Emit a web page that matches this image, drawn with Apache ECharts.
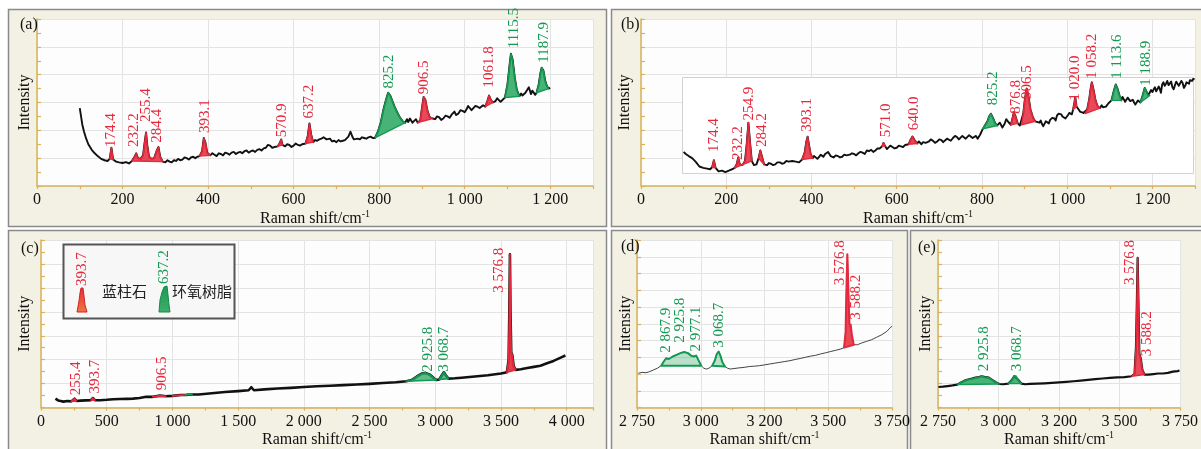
<!DOCTYPE html>
<html><head><meta charset="utf-8">
<script src="https://cdn.jsdelivr.net/npm/echarts@6/dist/echarts.min.js"></script>
<style>html,body{margin:0;padding:0;background:#fff}#c{width:1201px;height:449px}</style>
</head><body><div id="c"></div>
<script>
// ---------- DATA ----------
const specA = [[100,5.6],[103,5.0],[106,4.4],[110,3.9],[115,3.4],[120,3.0],[128,2.6],[135,2.35],[142,2.15],[150,1.95],[158,1.85],[165,1.8],[170,1.95],[174,2.75],[178,1.9],[185,1.75],[192,1.7],[200,1.65],[208,1.72],[215,1.62],[222,1.8],[228,2.1],[232,2.35],[236,2.0],[242,1.95],[248,2.2],[252,3.2],[255,3.85],[258,2.9],[262,2.1],[268,1.95],[274,2.0],[280,2.55],[284,2.8],[288,2.1],[294,1.75],[300,1.7],[305,1.85],[310,1.75],[315,1.7],[320,1.85],[325,1.8],[330,1.95],[335,1.85],[340,1.9],[345,2.05],[350,2.0],[355,1.9],[360,2.05],[365,2.1],[370,2.0],[375,2.1],[380,2.15],[386,2.5],[390,3.45],[394,3.1],[398,2.4],[405,2.2],[410,2.35],[415,2.25],[420,2.15],[425,2.35],[430,2.3],[435,2.2],[440,2.4],[445,2.35],[450,2.25],[455,2.4],[460,2.45],[465,2.3],[470,2.4],[475,2.45],[480,2.35],[485,2.5],[490,2.55],[495,2.4],[500,2.5],[505,2.55],[510,2.45],[515,2.6],[520,2.65],[525,2.55],[530,2.7],[535,2.75],[540,2.95],[545,2.9],[550,2.75],[555,2.8],[563,2.85],[568,3.1],[571,3.35],[574,2.95],[580,2.85],[585,3.0],[590,2.95],[595,2.8],[600,2.9],[605,3.05],[610,2.95],[615,2.9],[620,3.0],[628,3.05],[633,3.6],[637,4.5],[641,3.7],[646,3.15],[650,3.3],[655,3.25],[660,3.35],[665,3.4],[670,3.5],[673,3.55],[677,3.35],[680,3.3],[685,3.4],[690,3.2],[695,3.25],[700,3.15],[705,3.3],[710,3.2],[715,3.25],[720,3.3],[724,3.4],[728,3.55],[733,3.9],[738,3.5],[741,3.35],[745,3.3],[750,3.4],[755,3.35],[760,3.5],[765,3.45],[770,3.4],[775,3.5],[780,3.55],[785,3.45],[790,3.45],[797,3.9],[804,4.6],[810,5.5],[816,6.2],[821,6.7],[826,6.5],[831,6.1],[836,5.7],[842,5.3],[848,4.95],[855,4.65],[861,4.55],[865,4.8],[868,4.6],[872,4.85],[875,4.75],[878,4.55],[882,4.6],[886,4.8],[890,4.55],[896,4.7],[900,5.6],[904,6.4],[908,6.2],[913,5.4],[918,4.95],[925,4.85],[931,4.8],[935,5.0],[940,4.95],[945,4.75],[950,4.85],[955,5.05],[960,5.0],[965,4.9],[970,5.15],[976,5.35],[980,5.1],[985,5.2],[990,5.45],[995,5.4],[1000,5.3],[1005,5.55],[1008,5.75],[1012,5.65],[1016,5.45],[1020,5.5],[1025,5.75],[1030,5.7],[1035,5.6],[1039,5.55],[1043,5.8],[1048,5.7],[1053,6.1],[1057,6.5],[1061,6.2],[1066,6.0],[1072,6.1],[1076,6.3],[1080,6.2],[1084,6.05],[1088,6.15],[1094,6.35],[1100,7.3],[1105,8.7],[1108,9.5],[1112,9.1],[1117,7.8],[1122,6.9],[1128,6.45],[1132,6.65],[1135,6.5],[1139,6.4],[1142,6.7],[1146,6.9],[1150,7.1],[1155,6.6],[1158,6.85],[1162,6.75],[1165,6.55],[1168,6.7],[1173,7.3],[1177,8.1],[1180,8.5],[1184,8.3],[1188,7.6],[1192,7.2],[1196,7.0],[1200,7.05]];
const fillsA = [[166,182,'r'],[222,294,'r'],[380,405,'r'],[563,578,'r'],[628,648,'r'],[790,861,'g'],[890,925,'r'],[1048,1066,'r'],[1094,1128,'g'],[1168,1196,'g']];
const labelsA = [[173,2.8,'174.4','r'],[226,2.8,'232.2','r'],[256,4.6,'255.4','r'],[280,3.1,'284.4','r'],[393,3.8,'393.1','r'],[572,3.5,'570.9','r'],[637,4.85,'637.2','r'],[823,7.0,'825.2','g'],[905,6.6,'906.5','r'],[1057,7.07,'1061.8','r'],[1115,9.9,'1115.5','g'],[1186,8.86,'1187.9','g']];

const specB = [[100,2.45],[105,2.3],[112,2.15],[120,2.0],[128,1.75],[137,1.4],[146,1.3],[155,1.25],[162,1.2],[167,1.35],[171,1.85],[175,1.3],[182,1.05],[190,1.1],[198,1.0],[206,1.1],[213,1.2],[220,1.3],[225,1.6],[228,2.05],[232,1.55],[238,1.5],[244,1.8],[248,3.0],[252,4.55],[256,3.1],[260,1.8],[265,1.5],[271,1.55],[276,2.0],[280,2.55],[284,2.1],[289,1.55],[296,1.5],[300,1.65],[305,1.6],[310,1.5],[315,1.55],[320,1.7],[326,1.7],[331,1.6],[336,1.65],[341,1.8],[346,1.75],[350,1.65],[355,1.8],[359,1.85],[363,1.75],[367,1.65],[371,1.7],[378,1.9],[384,2.4],[388,3.2],[391,3.55],[394,3.0],[398,2.3],[403,2.0],[406,2.15],[410,2.05],[414,1.95],[418,2.1],[422,2.25],[425,2.2],[428,2.1],[432,2.3],[436,2.4],[439,2.45],[442,2.3],[445,2.15],[448,2.2],[452,2.05],[457,2.2],[462,2.15],[467,2.05],[472,2.1],[477,2.25],[482,2.2],[486,2.1],[490,2.25],[495,2.35],[500,2.3],[505,2.2],[510,2.35],[515,2.45],[520,2.4],[525,2.3],[530,2.55],[535,2.5],[540,2.6],[545,2.45],[550,2.55],[555,2.7],[560,2.7],[566,2.85],[569,3.1],[573,2.85],[577,2.65],[580,2.75],[585,2.9],[590,2.8],[595,2.7],[600,2.75],[605,2.9],[610,2.85],[615,2.8],[620,2.95],[628,3.0],[633,3.35],[637,3.55],[642,3.3],[648,3.05],[652,3.2],[655,3.1],[658,3.0],[662,3.15],[665,3.25],[668,3.1],[672,3.05],[676,3.2],[680,3.35],[685,3.25],[690,3.1],[695,3.2],[700,3.35],[705,3.3],[709,3.15],[713,3.25],[718,3.4],[722,3.35],[727,3.25],[732,3.45],[737,3.6],[742,3.5],[746,3.35],[750,3.45],[754,3.6],[758,3.55],[762,3.4],[766,3.5],[770,3.65],[774,3.6],[778,3.45],[782,3.55],[786,3.6],[790,3.4],[796,3.7],[802,4.1],[808,4.4],[813,4.65],[817,5.0],[821,5.2],[826,4.9],[831,4.5],[836,4.35],[842,4.55],[848,4.2],[853,4.45],[857,4.8],[862,4.6],[868,4.4],[872,4.9],[875,5.3],[879,5.0],[884,4.5],[889,4.35],[893,4.4],[897,5.2],[901,6.3],[905,7.0],[909,6.5],[914,5.5],[920,4.9],[925,4.65],[929,4.6],[935,4.55],[938,4.7],[941,4.45],[944,4.3],[947,4.4],[950,4.65],[953,4.6],[957,4.5],[960,4.75],[965,4.9],[970,4.85],[973,4.7],[976,5.05],[980,5.2],[983,5.3],[986,5.15],[989,5.0],[993,4.9],[996,4.85],[1002,5.1],[1005,5.25],[1008,5.3],[1011,5.15],[1014,5.5],[1017,6.0],[1019,6.4],[1022,5.7],[1027,5.5],[1030,5.35],[1033,5.3],[1038,5.25],[1042,5.2],[1047,5.5],[1052,6.3],[1056,7.2],[1058,7.45],[1062,6.9],[1067,6.1],[1072,5.7],[1077,5.6],[1081,5.8],[1084,5.65],[1088,5.55],[1091,5.7],[1097,5.95],[1104,6.15],[1110,6.9],[1114,7.3],[1118,7.0],[1123,6.5],[1127,6.15],[1130,6.4],[1133,6.3],[1136,6.05],[1139,6.1],[1142,6.35],[1145,6.25],[1148,6.1],[1151,6.05],[1154,6.2],[1157,6.0],[1160,5.85],[1163,5.9],[1166,6.15],[1168,6.05],[1172,6.0],[1177,6.5],[1182,7.05],[1186,6.8],[1190,6.5],[1194,6.5],[1197,6.9],[1200,6.75],[1203,6.95],[1206,7.1],[1209,6.8],[1212,6.85],[1215,7.15],[1217,7.0],[1220,6.7],[1223,7.3],[1226,7.45],[1229,7.2],[1232,7.35],[1235,7.55],[1238,7.25],[1241,7.35],[1244,7.5],[1247,7.1],[1250,6.95],[1253,7.25],[1256,7.5],[1259,7.45],[1262,7.2],[1265,7.3],[1268,7.55],[1271,7.4],[1274,7.05],[1277,7.2],[1280,7.45],[1283,7.5],[1286,7.35],[1288,7.6],[1291,7.7],[1293,7.55],[1296,7.7],[1299,7.65]];
const fillsB = [[165,178,'r'],[220,262,'r'],[274,290,'r'],[378,403,'r'],[562,576,'r'],[628,650,'r'],[802,836,'g'],[868,886,'r'],[893,925,'r'],[1014,1024,'r'],[1042,1077,'r'],[1104,1127,'g'],[1172,1194,'g']];
const labelsB = [[171,2.45,'174.4','r'],[228,1.86,'232.2','r'],[253,4.7,'254.9','r'],[284,2.8,'284.2','r'],[390,3.9,'393.1','r'],[574,3.5,'571.0','r'],[641,4.0,'640.0','r'],[825,5.8,'825.2','g'],[879,5.2,'876.8','r'],[906,6.26,'906.5','r'],[1019,6.14,'1 020.0','r'],[1059,7.7,'1 058.2','r'],[1117,7.7,'1 113.6','g'],[1184,7.2,'1 188.9','g']];

const specC = [[110,0.75],[130,0.6],[150,0.55],[170,0.5],[200,0.55],[230,0.52],[255,0.75],[270,0.55],[300,0.58],[340,0.6],[380,0.62],[394,0.8],[410,0.62],[450,0.62],[500,0.65],[550,0.7],[600,0.72],[650,0.73],[700,0.75],[750,0.8],[800,0.9],[850,0.9],[906,1.0],[950,0.95],[1000,0.98],[1061,1.05],[1100,1.05],[1115,1.15],[1150,1.1],[1200,1.1],[1300,1.2],[1400,1.3],[1500,1.38],[1580,1.45],[1600,1.7],[1620,1.45],[1700,1.52],[1800,1.6],[1900,1.65],[2000,1.72],[2100,1.78],[2200,1.83],[2300,1.88],[2400,1.93],[2500,1.98],[2600,2.05],[2700,2.12],[2780,2.2],[2820,2.3],[2860,2.6],[2900,2.85],[2925,2.9],[2960,2.75],[2990,2.45],[3010,2.3],[3030,2.35],[3050,2.7],[3065,2.95],[3080,2.7],[3100,2.42],[3150,2.45],[3200,2.5],[3300,2.6],[3400,2.7],[3500,2.85],[3545,2.95],[3558,4.0],[3564,8.5],[3568,12.8],[3572,8.0],[3578,4.6],[3586,4.4],[3596,3.5],[3610,3.15],[3650,3.2],[3700,3.3],[3750,3.4],[3800,3.5],[3850,3.7],[3900,3.9],[3950,4.15],[3990,4.35]];
const fillsC = [[230,270,'r'],[380,410,'r'],[850,950,'r'],[1000,1100,'r'],[1100,1150,'g'],[2780,3010,'g'],[3030,3100,'g'],[3545,3610,'r']];
const labelsC = [[266,1.03,'255.4','r'],[411,1.17,'393.7','r'],[923,1.44,'906.5','r'],[2944,3.0,'2 925.8','g'],[3067,3.0,'3 068.7','g'],[3484,9.6,'3 576.8','r']];

const specD = [[2755,2.05],[2770,2.1],[2785,2.08],[2800,2.15],[2815,2.25],[2830,2.35],[2845,2.5],[2855,2.75],[2865,2.95],[2875,2.9],[2890,3.05],[2905,3.15],[2920,3.25],[2935,3.32],[2950,3.25],[2962,3.1],[2972,3.05],[2982,3.1],[2992,2.8],[3002,2.5],[3012,2.35],[3022,2.3],[3032,2.35],[3045,2.5],[3055,2.8],[3063,3.2],[3070,3.35],[3077,3.1],[3085,2.7],[3095,2.45],[3105,2.35],[3115,2.3],[3130,2.33],[3150,2.37],[3170,2.4],[3190,2.45],[3210,2.47],[3230,2.5],[3250,2.55],[3270,2.6],[3290,2.65],[3310,2.7],[3330,2.75],[3350,2.8],[3370,2.87],[3390,2.93],[3410,3.0],[3430,3.07],[3450,3.12],[3470,3.2],[3490,3.27],[3510,3.35],[3530,3.42],[3550,3.5],[3562,3.58],[3568,4.5],[3572,7.5],[3575,9.15],[3579,7.0],[3583,5.0],[3588,4.95],[3593,4.3],[3600,3.75],[3615,3.75],[3630,3.85],[3650,3.95],[3670,4.05],[3690,4.2],[3710,4.35],[3730,4.55],[3745,4.8],[3750,4.85]];
const fillsD = [[2845,3002,'g'],[3045,3095,'g'],[3562,3600,'r']];
const labelsD = [[2864,3.27,'2 867.9','g'],[2919,3.87,'2 925.8','g'],[2983,3.35,'2 977.1','g'],[3070,3.57,'3 068.7','g'],[3545,7.3,'3 576.8','r'],[3611,5.24,'3 588.2','r']];

const specE = [[2752,1.72],[2770,1.75],[2790,1.8],[2810,1.85],[2830,1.92],[2845,2.1],[2860,2.25],[2875,2.35],[2890,2.42],[2905,2.5],[2920,2.55],[2930,2.62],[2945,2.55],[2960,2.5],[2975,2.3],[2990,2.1],[3003,1.97],[3020,1.95],[3040,2.0],[3055,2.3],[3065,2.62],[3072,2.65],[3082,2.3],[3095,2.0],[3110,1.95],[3130,1.98],[3160,2.0],[3190,2.03],[3220,2.06],[3250,2.1],[3280,2.15],[3310,2.2],[3340,2.26],[3370,2.32],[3400,2.38],[3430,2.43],[3460,2.48],[3490,2.52],[3520,2.55],[3550,2.62],[3562,2.8],[3568,5.0],[3572,9.0],[3575,12.5],[3578,9.0],[3582,4.5],[3588,4.1],[3594,3.2],[3603,2.75],[3620,2.75],[3640,2.8],[3660,2.85],[3680,2.85],[3700,2.9],[3720,3.0],[3740,3.05],[3748,3.1]];
const fillsE = [[2830,3003,'g'],[3040,3095,'g'],[3550,3603,'r']];
const labelsE = [[2940,3.03,'2 925.8','g'],[3076,3.03,'3 068.7','g'],[3544,10.25,'3 576.8','r'],[3613,4.28,'3 588.2','r']];

const ticksDE = ['2 750','3 000','3 200','3 500','3 750'];
const panelTags = ['(a)','(b)','(c)','(d)','(e)'];
const legendItems = [['393.7','蓝柱石','r'],['637.2','环氧树脂','g']];
const xTitle = 'Raman shift/cm';
const xTitleSup = '-1';
const yTitle = 'Intensity';

// ---------- STYLE / LAYOUT ----------
const FONT = "'Liberation Serif','Times New Roman',serif";
const RED = '#e5283c', GREEN = '#139a52';
const AX = '#d8b35a';
const thou = v => v >= 1000 ? String(v).replace(/(\d)(?=(\d{3})+$)/, '$1 ') : String(v);
const fmtDE = v => ticksDE[Math.round((v - 2750) / 250)] || '';

const panels = [
  {spec:specA, fills:fillsA, labels:labelsA, grid:{left:37,top:19,width:556,height:167}, x:[0,1300,200], y:[12,2,true], fmt:thou, yGap:4, xGap:22, lw:1.9, lc:'#111', fr:0.85, fg:0.8, sw:1.4},
  {spec:specB, fills:fillsB, labels:labelsB, grid:{left:641,top:19,width:554,height:167}, x:[0,1300,200], y:[12,2,true], fmt:thou, yGap:8, xGap:22, lw:1.9, lc:'#111', fr:0.85, fg:0.8, sw:1.4},
  {spec:specC, fills:fillsC, labels:labelsC, grid:{left:41,top:240,width:552,height:168}, x:[0,4200,500], y:[14,2,true], fmt:thou, yGap:8, xGap:21, lw:2.6, lc:'#111', fr:0.9, fg:0.7, sw:1.6},
  {spec:specD, fills:fillsD, labels:labelsD, grid:{left:637,top:240,width:255,height:168}, x:[2750,3750,250], y:[10,1,false], fmt:fmtDE, yGap:3, xGap:21, lw:1, lc:'#444', fr:0.85, fg:0.3, sw:2},
  {spec:specE, fills:fillsE, labels:labelsE, grid:{left:938,top:240,width:255,height:168}, x:[2750,3750,250], y:[14,2,true], fmt:fmtDE, yGap:4, xGap:21, lw:2.2, lc:'#111', fr:0.85, fg:0.8, sw:1.4}
];

const grids = [], xAxes = [], yAxes = [], series = [];
panels.forEach((P, i) => {
  grids.push(Object.assign({show:true, backgroundColor:'#fdfdfd', borderWidth:0}, P.grid));
  xAxes.push({
    type:'value', gridIndex:i, min:P.x[0], max:P.x[1], interval:P.x[2],
    axisLine:{show:true, onZero:false, lineStyle:{color:AX, width:1.5}},
    axisTick:{show:true, inside:false, length:3, lineStyle:{color:AX, width:1.2}},
    minorTick:{show:true, splitNumber:2, length:3, lineStyle:{color:AX, width:1.2}},
    splitLine:{show:true, lineStyle:{color:'#e3e3e3', width:1}},
    axisLabel:{color:'#111', fontFamily:FONT, fontSize:16, margin:6, formatter:P.fmt, showMaxLabel:P.x[0] === 2750, showMinLabel:true},
    name:'{a|' + xTitle + '}{b|' + xTitleSup + '}', nameLocation:'middle', nameGap:P.xGap,
    nameTextStyle:{rich:{a:{fontFamily:FONT, fontSize:16, color:'#111', lineHeight:18}, b:{fontFamily:FONT, fontSize:10, color:'#111', padding:[0,0,9,0]}}}
  });
  yAxes.push({
    type:'value', gridIndex:i, min:0, max:P.y[0], interval:P.y[1],
    axisLine:{show:true, lineStyle:{color:AX, width:1.5}},
    axisTick:{show:true, inside:true, length:4, lineStyle:{color:AX, width:1.2}},
    minorTick:{show:P.y[2], splitNumber:2, length:4, lineStyle:{color:AX, width:1.2}},
    splitLine:{show:true, lineStyle:{color:'#e3e3e3', width:1}},
    axisLabel:{show:false},
    name:yTitle, nameLocation:'middle', nameGap:P.yGap,
    nameTextStyle:{fontFamily:FONT, fontSize:16, color:'#111'}
  });
  series.push({type:'line', xAxisIndex:i, yAxisIndex:i, data:P.spec, showSymbol:false, symbol:'none',
    lineStyle:{color:P.lc, width:P.lw, join:'round'}, z:2, animation:false});
  series.push({type:'custom', xAxisIndex:i, yAxisIndex:i, z:3, animation:false, silent:true,
    data:P.fills.map(f => [f[0], 0, f[1]]), encode:{x:[0,2], y:1},
    renderItem:(params, api) => {
      const f = P.fills[params.dataIndex];
      const pts = P.spec.filter(p => p[0] >= f[0] && p[0] <= f[1]).map(p => api.coord(p));
      if (pts.length < 2) return null;
      const isR = f[2] === 'r';
      const fill = isR ? 'rgba(229,40,60,' + P.fr + ')' : 'rgba(25,160,85,' + P.fg + ')';
      return {type:'polygon', shape:{points:pts}, style:{fill:fill, stroke:isR ? RED : GREEN, lineWidth:P.sw, lineJoin:'round'}};
    }});
  series.push({type:'custom', xAxisIndex:i, yAxisIndex:i, z:4, clip:false, animation:false, silent:true,
    data:P.labels.map(l => [l[0], l[1]]), encode:{x:0, y:1},
    renderItem:(params, api) => {
      const l = P.labels[params.dataIndex];
      const p = api.coord([l[0], l[1]]);
      return {type:'text', x:p[0], y:p[1], rotation:Math.PI/2,
        style:{text:l[2], fill:l[3] === 'r' ? RED : GREEN, font:'15px ' + FONT, align:'left', verticalAlign:'middle'}};
    }});
});

// frames, tags, legend, inset
const frames = [[8,9,598,217],[611,9,600,217],[8,230,598,230],[611,230,296,230],[910,230,300,230]];
const tagPos = [[20,25],[621,25],[21,249],[621,247],[918,248]];
const graphics = [];
frames.forEach(f => graphics.push({type:'rect', z:-10, silent:true,
  shape:{x:f[0]+0.5, y:f[1]+0.5, width:f[2], height:f[3]}, style:{fill:'#f3f1e3', stroke:'#8a8a8a', lineWidth:1.5}}));
graphics.push({type:'rect', z:1, silent:true, shape:{x:682.5, y:77.5, width:511, height:96}, style:{fill:'#ffffff', stroke:'#d2d2d2', lineWidth:1}});
panelTags.forEach((t, i) => graphics.push({type:'text', z:20, x:tagPos[i][0], y:tagPos[i][1],
  style:{text:t, font:'16px ' + FONT, fill:'#111', align:'left', verticalAlign:'middle'}}));
// legend box
graphics.push({type:'rect', z:20, shape:{x:63.5, y:244.5, width:171, height:74}, style:{fill:'#f7f7f7', stroke:'#555', lineWidth:2}});
const legIcon = [[[77,312],[79,301],[80,293],[81,288],[83,288],[84,296],[85,305],[87,312]], [[159,312],[160,300],[162,292],[164,287],[167,286],[168,295],[169,305],[170,312]]];
const legIconX = [82, 164.5], legTextX = [102, 172];
legendItems.forEach((it, k) => {
  const isR = it[2] === 'r';
  graphics.push({type:'polygon', z:21, shape:{points:legIcon[k]},
    style:{fill:{type:'linear', x:0, y:0, x2:0, y2:1, colorStops: isR ? [{offset:0,color:'#e52b3a'},{offset:1,color:'#ec7a3c'}] : [{offset:0,color:'#1b9a52'},{offset:1,color:'#3fae6c'}]},
      stroke: isR ? '#d8202f' : '#138a46', lineWidth:1}});
  graphics.push({type:'text', z:21, x:legIconX[k], y:isR ? 286 : 284, rotation:Math.PI/2,
    style:{text:it[0], font:'15px ' + FONT, fill:isR ? RED : GREEN, align:'left', verticalAlign:'middle'}});
  graphics.push({type:'text', z:21, x:legTextX[k], y:291,
    style:{text:it[1], font:"15px 'Noto Sans CJK SC'", fill:'#222', align:'left', verticalAlign:'middle'}});
});

const chart = echarts.init(document.getElementById('c'));
chart.setOption({
  animation:false,
  backgroundColor:'#ffffff',
  grid:grids, xAxis:xAxes, yAxis:yAxes, series:series,
  graphic:{elements:graphics}
});
</script>
</body></html>
